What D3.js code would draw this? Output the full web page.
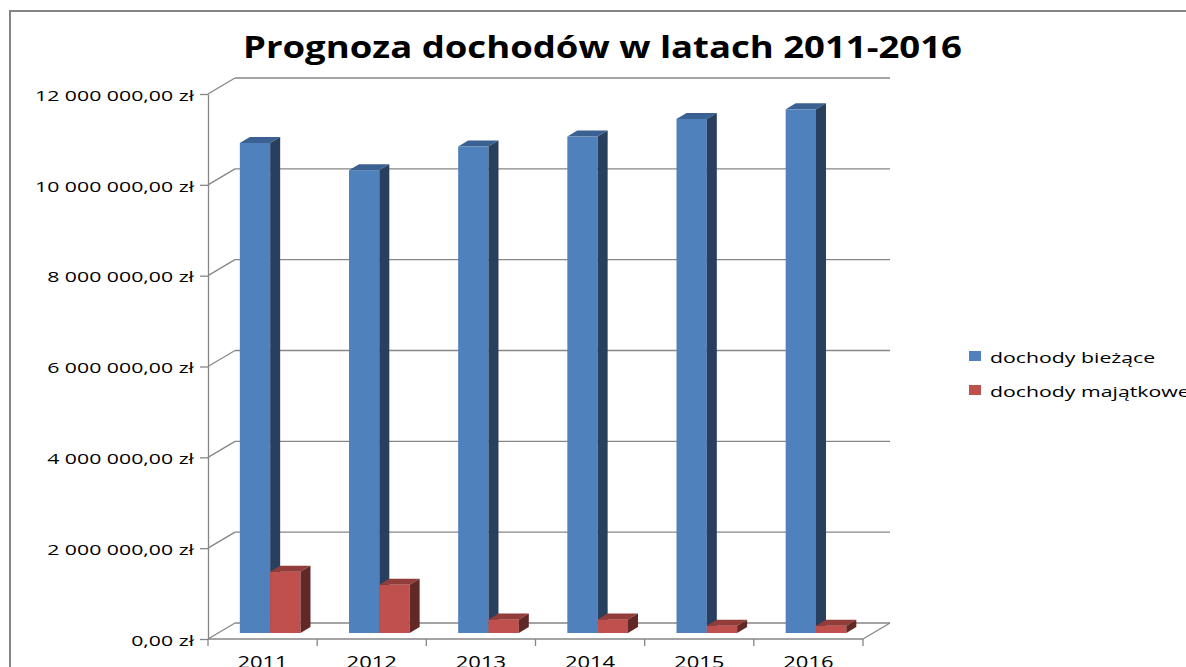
<!DOCTYPE html>
<html>
<head>
<meta charset="utf-8">
<script src="https://cdn.jsdelivr.net/npm/d3@7"></script>
<style>
  body { margin: 0; background: #fff; }
  text { font-family: "Open Sans", sans-serif; fill: #000; }
</style>
</head>
<body>
<div id="chart"></div>
<script>
const years = ["2011", "2012", "2013", "2014", "2015", "2016"];
const seriesNames = ["dochody bieżące", "dochody majątkowe"];
const biezace = [10790000, 10190000, 10710000, 10930000, 11320000, 11530000];
const majatkowe = [1350000, 1060000, 300000, 300000, 160000, 160000];
const yTicks = [0, 2000000, 4000000, 6000000, 8000000, 10000000, 12000000];
const title = "Prognoza dochodów w latach 2011-2016";

const width = 1186, height = 667;
const colors = [
  { front: "#4f81bd", top: "#3b6192", side: "#283f5e" },
  { front: "#c0504d", top: "#933d3b", side: "#622826" }
];
const wall = { dx: 27, dy: -16 };   // depth of the back wall
const barOff = { dx: 10, dy: -6 };  // front face of bars sits a bit behind
const barDepth = { dx: 10, dy: -6 };

const svg = d3.select("#chart").append("svg")
  .attr("width", width).attr("height", height);

// outer frame
svg.append("rect")
  .attr("x", 10).attr("y", 11).attr("width", 1200).attr("height", 700)
  .attr("fill", "none").attr("stroke", "#868686").attr("stroke-width", 2);

const x = d3.scaleBand().domain(years).range([208, 863]);
const xs = d3.scaleBand().domain(seriesNames).range([0, x.bandwidth()])
  .paddingOuter(0.8).align(0.45);
const y = d3.scaleLinear().domain([0, 12000000]).range([639, 94]);

const pl = d3.formatLocale({ decimal: ",", thousands: " ", grouping: [3], currency: ["", " zł"] });
const fmt = pl.format("$,.2f");

// stretch factor, the source renders text wide
const probe = svg.append("text").attr("font-size", 15).text(fmt(12000000));
const k = 159 / probe.node().getComputedTextLength();
probe.remove();
function stretch(sel) {
  sel.each(function () {
    const w = this.getComputedTextLength();
    d3.select(this).attr("textLength", w * k).attr("lengthAdjust", "spacingAndGlyphs");
  });
}

const gridColor = "#868686";
const x0 = x.range()[0], x1 = x.range()[1];

// back wall gridlines + side wall diagonals
const grid = svg.append("g").attr("stroke", gridColor).attr("stroke-width", 1.3).attr("fill", "none");
grid.selectAll(".gl").data(yTicks).join("line")
  .attr("x1", x0 + wall.dx).attr("x2", x1 + wall.dx)
  .attr("y1", d => y(d) + wall.dy).attr("y2", d => y(d) + wall.dy);
grid.selectAll(".sw").data(yTicks).join("line")
  .attr("x1", x0).attr("x2", x0 + wall.dx)
  .attr("y1", d => y(d)).attr("y2", d => y(d) + wall.dy);
// floor front edge + right edge
grid.append("line").attr("x1", x0).attr("x2", x1).attr("y1", y(0)).attr("y2", y(0));
grid.append("line").attr("x1", x1).attr("x2", x1 + wall.dx).attr("y1", y(0)).attr("y2", y(0) + wall.dy);

// y axis
const yAxis = svg.append("g")
  .attr("transform", `translate(${x0},0)`)
  .call(d3.axisLeft(y).tickValues(yTicks).tickFormat(fmt).tickSize(8).tickSizeOuter(0).tickPadding(6));
yAxis.select(".domain").attr("stroke", gridColor).attr("stroke-width", 1.3);
yAxis.selectAll(".tick line").attr("stroke", gridColor).attr("stroke-width", 1.3);
yAxis.selectAll(".tick text").attr("font-size", 15).attr("font-family", "Open Sans").attr("dy", "0.42em").call(stretch);

// x axis: ticks on band boundaries
const bounds = years.map(d => x(d)).concat([x1]);
svg.append("g").selectAll("line").data(bounds).join("line")
  .attr("x1", d => d).attr("x2", d => d)
  .attr("y1", y(0)).attr("y2", y(0) + 7)
  .attr("stroke", gridColor).attr("stroke-width", 1.3);
svg.append("g").selectAll("text").data(years).join("text")
  .attr("x", d => x(d) + x.bandwidth() / 2)
  .attr("y", y(0) + 29)
  .attr("text-anchor", "middle")
  .attr("font-size", 15.5)
  .text(d => d)
  .call(stretch);

// bars
const rows = years.map((yr, i) => ({ year: yr, vals: [biezace[i], majatkowe[i]] }));
const bars = svg.append("g");
rows.forEach(r => {
  r.vals.forEach((v, si) => {
    const bx = x(r.year) + xs(seriesNames[si]) + barOff.dx;
    const bw = xs.bandwidth();
    const yb = y(0) + barOff.dy;
    const yt = y(v) + barOff.dy;
    const g = bars.append("g");
    g.append("rect").attr("x", bx).attr("y", yt).attr("width", bw).attr("height", yb - yt)
      .attr("fill", colors[si].front);
    g.append("path").attr("fill", colors[si].top)
      .attr("d", `M${bx},${yt}L${bx + bw},${yt}L${bx + bw + barDepth.dx},${yt + barDepth.dy}L${bx + barDepth.dx},${yt + barDepth.dy}Z`);
    g.append("path").attr("fill", colors[si].side)
      .attr("d", `M${bx + bw},${yt}L${bx + bw + barDepth.dx},${yt + barDepth.dy}L${bx + bw + barDepth.dx},${yb + barDepth.dy}L${bx + bw},${yb}Z`);
  });
});

// title
svg.append("text")
  .attr("x", 602.5).attr("y", 58)
  .attr("text-anchor", "middle")
  .attr("font-size", 30).attr("font-weight", "bold")
  .attr("textLength", 719).attr("lengthAdjust", "spacingAndGlyphs")
  .text(title);

// legend
const leg = svg.append("g").selectAll("g").data(seriesNames).join("g")
  .attr("transform", (d, i) => `translate(969,${351 + i * 34})`);
leg.append("rect").attr("width", 12).attr("height", 10).attr("fill", (d, i) => colors[i].front);
leg.append("text").attr("x", 21).attr("y", 12).attr("font-size", 15).text(d => d).call(stretch);
</script>
</body>
</html>
